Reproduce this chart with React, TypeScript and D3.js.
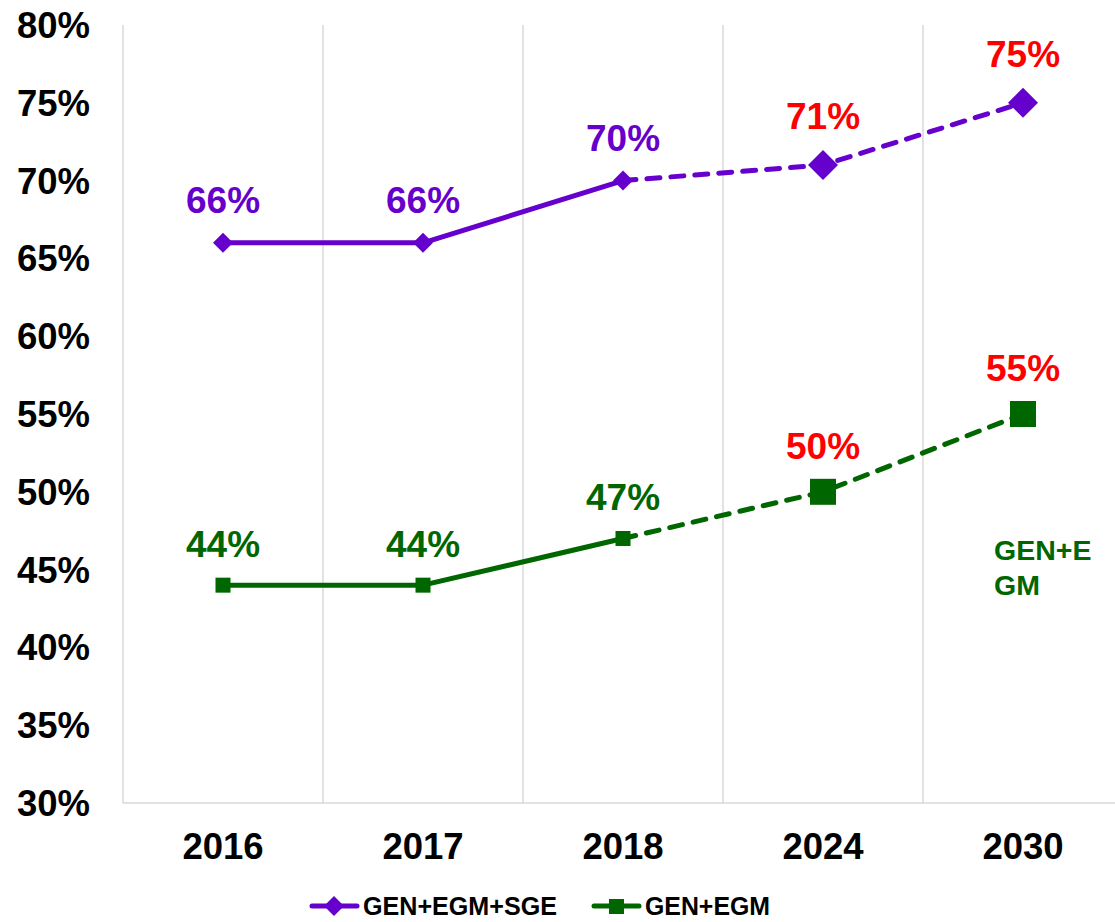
import React from "react";
import * as d3 from "d3";

const categories = ["2016", "2017", "2018", "2024", "2030"];
const seriesA = [66, 66, 70, 71, 75]; // GEN+EGM+SGE
const seriesB = [44, 44, 47, 50, 55]; // GEN+EGM
const projected = [false, false, false, true, true];
const yTicks = [30, 35, 40, 45, 50, 55, 60, 65, 70, 75, 80];
const seriesNames = ["GEN+EGM+SGE", "GEN+EGM"];

const W = 1115;
const H = 922;
const PURPLE = "#6600CC";
const GREEN = "#006600";
const RED = "#FF0000";
const FONT = "'Liberation Sans', Arial, sans-serif";

export default function App() {
  const x = d3.scaleBand<string>().domain(categories).range([123, 1123]);
  const y = d3.scaleLinear().domain([30, 80]).range([803, 25]);
  const cx = (c: string) => (x(c) as number) + x.bandwidth() / 2;

  const line = d3
    .line<[string, number]>()
    .x((d) => cx(d[0]))
    .y((d) => y(d[1]));

  const pairs = (vals: number[]) => categories.map((c, i) => [c, vals[i]] as [string, number]);
  const solidPart = (vals: number[]) => pairs(vals).slice(0, 3);
  const dashPart = (vals: number[]) => pairs(vals).slice(2);

  const diamond = (px: number, py: number, r: number) =>
    `M${px},${py - r}L${px + r},${py}L${px},${py + r}L${px - r},${py}Z`;

  const gridX = [...categories.map((c) => x(c) as number), 1123];

  return (
    <svg
      width={W}
      height={H}
      style={{ position: "absolute", left: 0, top: 0, background: "#fff" }}
      fontFamily={FONT}
      fontWeight="bold"
    >
      {gridX.map((gx, i) => (
        <line key={i} x1={gx} x2={gx} y1={y(80)} y2={y(30)} stroke="#D9D9D9" strokeWidth={1.5} />
      ))}
      <line x1={123} x2={1123} y1={y(30)} y2={y(30)} stroke="#D9D9D9" strokeWidth={1.5} />

      {yTicks.map((t) => (
        <text key={t} x={90} y={y(t) + 13} textAnchor="end" fontSize={36.5} fill="#000">
          {t}%
        </text>
      ))}

      {categories.map((c) => (
        <text key={c} x={cx(c)} y={859} textAnchor="middle" fontSize={36.5} fill="#000">
          {c}
        </text>
      ))}

      <path d={line(solidPart(seriesA)) || ""} fill="none" stroke={PURPLE} strokeWidth={5} strokeLinejoin="round" />
      <path
        d={line(dashPart(seriesA)) || ""}
        fill="none"
        stroke={PURPLE}
        strokeWidth={5}
        strokeDasharray="13 11"
        strokeLinecap="round"
      />
      <path d={line(solidPart(seriesB)) || ""} fill="none" stroke={GREEN} strokeWidth={5} strokeLinejoin="round" />
      <path
        d={line(dashPart(seriesB)) || ""}
        fill="none"
        stroke={GREEN}
        strokeWidth={5}
        strokeDasharray="13 11"
        strokeLinecap="round"
      />

      {categories.map((c, i) => (
        <path key={"ma" + c} d={diamond(cx(c), y(seriesA[i]), projected[i] ? 15 : 10)} fill={PURPLE} />
      ))}
      {categories.map((c, i) => {
        const s = projected[i] ? 26 : 15;
        return (
          <rect key={"mb" + c} x={cx(c) - s / 2} y={y(seriesB[i]) - s / 2} width={s} height={s} fill={GREEN} />
        );
      })}

      {categories.map((c, i) => (
        <text
          key={"la" + c}
          x={cx(c)}
          y={y(seriesA[i]) - (projected[i] ? 36 : 30)}
          textAnchor="middle"
          fontSize={37}
          fill={projected[i] ? RED : PURPLE}
        >
          {seriesA[i]}%
        </text>
      ))}
      {categories.map((c, i) => (
        <text
          key={"lb" + c}
          x={cx(c)}
          y={y(seriesB[i]) - (projected[i] ? 33 : 28)}
          textAnchor="middle"
          fontSize={37}
          fill={projected[i] ? RED : GREEN}
        >
          {seriesB[i]}%
        </text>
      ))}

      <text x={994} y={560} fontSize={28.5} fill={GREEN}>
        <tspan x={994}>GEN+E</tspan>
        <tspan x={994} dy={35}>GM</tspan>
      </text>

      <g>
        <line x1={312} x2={357} y1={906} y2={906} stroke={PURPLE} strokeWidth={5} strokeLinecap="round" />
        <path d={diamond(334, 906, 10)} fill={PURPLE} />
        <text x={363} y={915} fontSize={26} fill="#000" textLength={194} lengthAdjust="spacingAndGlyphs">
          {seriesNames[0]}
        </text>
        <line x1={594} x2={639} y1={906} y2={906} stroke={GREEN} strokeWidth={5} strokeLinecap="round" />
        <rect x={609} y={899} width={15} height={15} fill={GREEN} />
        <text x={645} y={915} fontSize={26} fill="#000" textLength={125} lengthAdjust="spacingAndGlyphs">
          {seriesNames[1]}
        </text>
      </g>
    </svg>
  );
}
